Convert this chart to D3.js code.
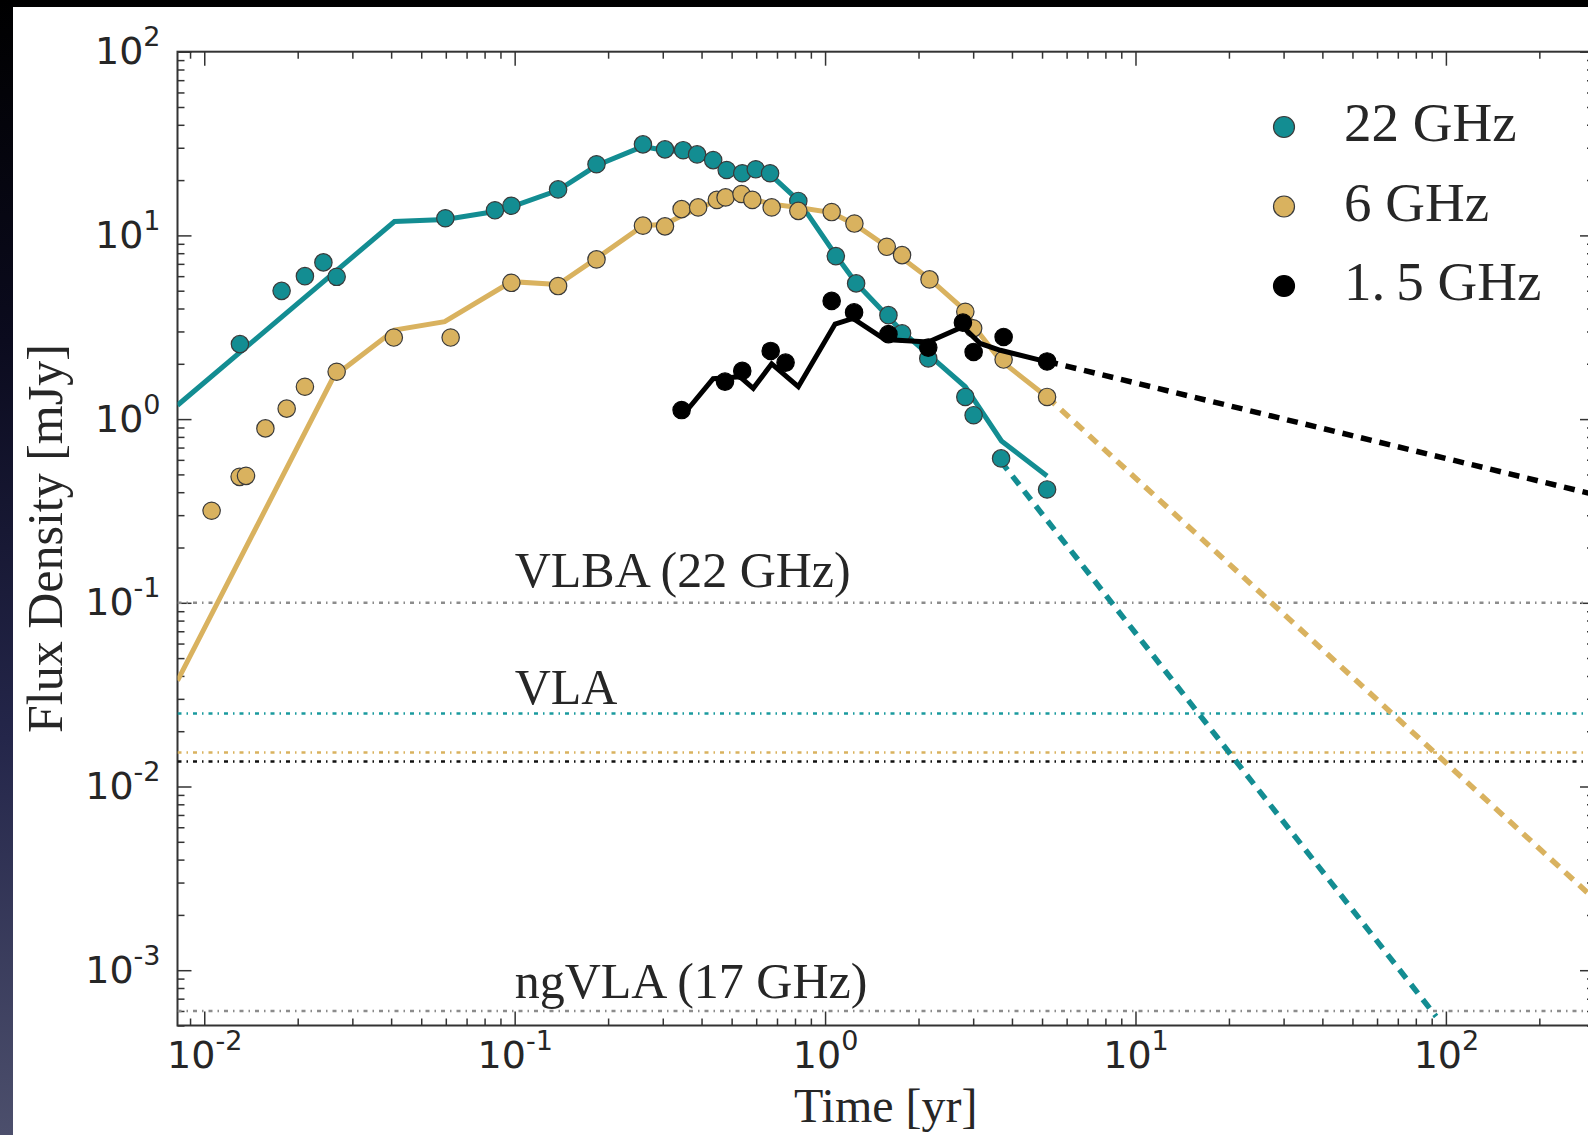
<!DOCTYPE html>
<html>
<head>
<meta charset="utf-8">
<script src="https://cdn.jsdelivr.net/npm/d3@7"></script>
<style>
body { margin: 0; background: #000; }
svg text { font-family: "Liberation Serif", serif; fill: #262626; }
.axis .tick text { font-family: "DejaVu Sans", sans-serif; }
</style>
</head>
<body>
<div id="chart-area"></div>
<script>
// ---- values: [time (yr), flux density (mJy)] ----
var pts22 = [[0.01303, 2.56], [0.01775, 4.99], [0.0211, 6.0], [0.0242, 7.13], [0.0267, 5.95],
    [0.0598, 12.4], [0.0864, 13.7], [0.0976, 14.5], [0.138, 17.8], [0.1835, 24.4], [0.259, 31.3],
    [0.305, 29.4], [0.349, 29.1], [0.387, 27.6], [0.436, 25.7], [0.482, 22.7], [0.541, 21.8],
    [0.598, 22.9], [0.665, 21.8], [0.82, 15.4], [1.083, 7.71], [1.259, 5.48], [1.6, 3.68],
    [1.77, 2.93], [2.15, 2.14], [2.83, 1.32], [3.01, 1.05], [3.69, 0.611], [5.19, 0.414]];

var pts6 = [[0.01056, 0.317], [0.0130, 0.485], [0.01363, 0.491], [0.01574, 0.89], [0.01843, 1.14],
    [0.0211, 1.50], [0.0267, 1.81], [0.0408, 2.78], [0.0622, 2.78], [0.0976, 5.52], [0.138, 5.30],
    [0.1835, 7.40], [0.259, 11.3], [0.305, 11.2], [0.345, 13.9], [0.39, 14.2], [0.448, 15.6],
    [0.478, 16.1], [0.538, 16.8], [0.583, 15.6], [0.673, 14.2], [0.82, 13.6], [1.05, 13.4],
    [1.243, 11.6], [1.58, 8.67], [1.77, 7.81], [2.17, 5.76], [2.83, 3.84], [3.0, 3.12],
    [3.76, 2.11], [5.19, 1.32]];

var pts15 = [[0.345, 1.12], [0.476, 1.60], [0.541, 1.83], [0.668, 2.35], [0.746, 2.03], [1.05, 4.40],
    [1.24, 3.81], [1.6, 2.90], [2.15, 2.45], [2.78, 3.35], [3.01, 2.32], [3.76, 2.80], [5.19, 2.06]];

// model curves (solid) and their extrapolations (dashed)
var model22 = [[0.0082, 1.19], [0.041, 11.9], [0.0598, 12.2], [0.0864, 13.5], [0.0976, 14.3],
    [0.138, 17.6], [0.1835, 24.0], [0.259, 30.5], [0.305, 29.0], [0.349, 28.6], [0.387, 27.2],
    [0.436, 25.3], [0.482, 22.5], [0.541, 21.5], [0.598, 22.5], [0.665, 21.5], [0.82, 15.5],
    [1.083, 7.8], [1.259, 5.5], [1.6, 3.6], [1.77, 3.0], [2.15, 2.25], [2.83, 1.5], [3.7, 0.76],
    [5.19, 0.49]];
var model6 = [[0.0082, 0.0377], [0.0261, 1.70], [0.041, 3.05], [0.0595, 3.39], [0.0976, 5.6],
    [0.138, 5.4], [0.1835, 7.5], [0.259, 11.3], [0.305, 11.5], [0.345, 12.8], [0.39, 14.0],
    [0.448, 15.5], [0.538, 16.3], [0.673, 14.8], [0.82, 14.2], [1.05, 13.3], [1.243, 11.5],
    [1.58, 8.7], [2.17, 5.8], [2.83, 3.9], [3.08, 3.05], [3.67, 2.09], [5.19, 1.32]];
var model15 = [[0.345, 1.03], [0.436, 1.66], [0.532, 1.70], [0.587, 1.47], [0.673, 2.0], [0.82, 1.50],
    [1.077, 3.29], [1.23, 3.53], [1.56, 2.71], [2.15, 2.63], [2.78, 3.18], [3.16, 2.58],
    [3.67, 2.37], [5.19, 2.05]];
var extrap22 = [[3.68, 0.59], [93, 5.6e-4]];
var extrap6 = [[5.19, 1.32], [300, 2.45e-3]];
var extrap15 = [[5.19, 2.06], [300, 0.389]];

// sensitivity limits (mJy)
var limitValues = [0.1, 0.025, 0.0153, 0.0137, 6e-4];
var limitColors = ["#8c8c8c", "#1a9a9e", "#d9b25f", "#111111", "#8c8c8c"];
var limitLabels = ["VLBA (22 GHz)", "VLA", "ngVLA (17 GHz)"];
var limitLabelPos = [[0.1, 0.122], [0.1, 0.0281], [0.1, 7.05e-4]];

var legendLabels = ["22 GHz", "6 GHz", "1.\u20095 GHz"];
var xMajor = [1e-2, 1e-1, 1, 10, 100], xExp = ["-2", "-1", "0", "1", "2"];
var yMajor = [1e-3, 1e-2, 1e-1, 1, 10, 100], yExp = ["-3", "-2", "-1", "0", "1", "2"];

var teal = "#138d92", gold = "#d9b25f", black = "#000000";

// ---- layout ----
var W = 1588, H = 1135;
var plot = { left: 177.5, top: 51.7, right: 1594, bottom: 1025.5 };

const svg = d3.select("#chart-area").append("svg")
    .attr("width", W).attr("height", H);

const defs = svg.append("defs");
const grad = defs.append("linearGradient").attr("id", "bg")
    .attr("x1", 0).attr("y1", 0).attr("x2", 0).attr("y2", 1);
grad.append("stop").attr("offset", "0%").attr("stop-color", "#000000");
grad.append("stop").attr("offset", "30%").attr("stop-color", "#0b0b1e");
grad.append("stop").attr("offset", "65%").attr("stop-color", "#24264a");
grad.append("stop").attr("offset", "100%").attr("stop-color", "#4c4f6c");
defs.append("clipPath").attr("id", "clip").append("rect")
    .attr("x", plot.left).attr("y", plot.top)
    .attr("width", plot.right - plot.left).attr("height", plot.bottom - plot.top);

svg.append("rect").attr("width", W).attr("height", H).attr("fill", "url(#bg)");
svg.append("rect").attr("x", 13).attr("y", 7).attr("width", W - 13).attr("height", H - 7)
    .attr("fill", "#ffffff");

const xScale = d3.scaleLog().domain([0.0082, 300]).range([plot.left, plot.right]);
const yScale = d3.scaleLog().domain([5e-4, 100]).range([plot.bottom, plot.top]);

function isPow10(d) {
    var l = Math.log10(d);
    return Math.abs(l - Math.round(l)) < 1e-6;
}
var xMinor = xScale.ticks().filter(function(d) { return !isPow10(d); });
var yMinor = yScale.ticks().filter(function(d) { return !isPow10(d); });

function styleAxis(g) {
    g.select(".domain").remove();
    g.attr("color", "#262626").attr("font-size", 38);
    g.selectAll(".tick line").attr("stroke", "#333").attr("stroke-width", 1.5);
}

function powLabels(g, exps) {
    g.selectAll(".tick text").each(function(d, i) {
        const t = d3.select(this).text(null);
        t.append("tspan").text("10");
        t.append("tspan").attr("dy", -18).attr("font-size", 27).text(exps[i]);
    });
}

// bottom
svg.append("g").attr("class", "axis")
    .attr("transform", "translate(0," + plot.bottom + ")")
    .call(d3.axisBottom(xScale).tickValues(xMinor).tickSize(-7).tickFormat(""))
    .call(styleAxis);
svg.append("g").attr("class", "axis")
    .attr("transform", "translate(0," + plot.bottom + ")")
    .call(d3.axisBottom(xScale).tickValues(xMajor).tickSize(-14).tickPadding(15.5).tickFormat(function() { return ""; }))
    .call(styleAxis)
    .call(powLabels, xExp);
// top
svg.append("g").attr("transform", "translate(0," + plot.top + ")")
    .call(d3.axisTop(xScale).tickValues(xMinor).tickSize(-7).tickFormat(""))
    .call(styleAxis);
svg.append("g").attr("transform", "translate(0," + plot.top + ")")
    .call(d3.axisTop(xScale).tickValues(xMajor).tickSize(-14).tickFormat(""))
    .call(styleAxis);
// left
svg.append("g").attr("transform", "translate(" + plot.left + ",0)")
    .call(d3.axisLeft(yScale).tickValues(yMinor).tickSize(-7).tickFormat(""))
    .call(styleAxis);
svg.append("g").attr("class", "axis")
    .attr("transform", "translate(" + plot.left + ",0)")
    .call(d3.axisLeft(yScale).tickValues(yMajor).tickSize(-14).tickPadding(17).tickFormat(function() { return ""; }))
    .call(styleAxis)
    .call(powLabels, yExp);
// right
svg.append("g").attr("transform", "translate(" + plot.right + ",0)")
    .call(d3.axisRight(yScale).tickValues(yMinor).tickSize(-7).tickFormat(""))
    .call(styleAxis);
svg.append("g").attr("transform", "translate(" + plot.right + ",0)")
    .call(d3.axisRight(yScale).tickValues(yMajor).tickSize(-14).tickFormat(""))
    .call(styleAxis);

svg.append("rect")
    .attr("x", plot.left).attr("y", plot.top)
    .attr("width", plot.right - plot.left).attr("height", plot.bottom - plot.top)
    .attr("fill", "none").attr("stroke", "#333").attr("stroke-width", 2);

const g = svg.append("g").attr("clip-path", "url(#clip)");

// sensitivity lines
g.selectAll(".limit")
    .data(limitValues)
    .enter()
    .append("line")
    .attr("x1", plot.left).attr("x2", plot.right)
    .attr("y1", function(d) { return yScale(d); })
    .attr("y2", function(d) { return yScale(d); })
    .attr("stroke", function(d, i) { return limitColors[i]; })
    .attr("stroke-width", 2.5)
    .attr("stroke-dasharray", "4,5,1.5,5");

svg.selectAll(".limit-label")
    .data(limitLabels)
    .enter()
    .append("text")
    .attr("x", function(d, i) { return xScale(limitLabelPos[i][0]); })
    .attr("y", function(d, i) { return yScale(limitLabelPos[i][1]); })
    .attr("font-size", 50)
    .text(function(d) { return d; });

const line = d3.line()
    .x(function(d) { return xScale(d[0]); })
    .y(function(d) { return yScale(d[1]); });

function dashed(data, color) {
    g.append("path").datum(data)
        .attr("d", line)
        .attr("fill", "none").attr("stroke", color)
        .attr("stroke-width", 5.5).attr("stroke-dasharray", "11,8");
}
function series(model, pts, color) {
    g.append("path").datum(model)
        .attr("d", line)
        .attr("fill", "none").attr("stroke", color)
        .attr("stroke-width", 5).attr("stroke-linejoin", "miter");
    g.append("g").selectAll("circle")
        .data(pts)
        .enter()
        .append("circle")
        .attr("cx", function(d) { return xScale(d[0]); })
        .attr("cy", function(d) { return yScale(d[1]); })
        .attr("r", 8.7)
        .attr("fill", color)
        .attr("stroke", color === black ? black : "#3a3a3a")
        .attr("stroke-width", 1.2);
}

dashed(extrap22, teal);
dashed(extrap6, gold);
dashed(extrap15, black);
series(model22, pts22, teal);
series(model6, pts6, gold);
series(model15, pts15, black);

// legend
var legendColors = [teal, gold, black];
const legend = svg.append("g");
legend.selectAll("circle")
    .data(legendLabels)
    .enter()
    .append("circle")
    .attr("cx", 1284)
    .attr("cy", function(d, i) { return 127 + i * 79.5; })
    .attr("r", 10.5)
    .attr("fill", function(d, i) { return legendColors[i]; })
    .attr("stroke", function(d, i) { return i === 2 ? black : "#3a3a3a"; })
    .attr("stroke-width", 1.2);
legend.selectAll("text")
    .data(legendLabels)
    .enter()
    .append("text")
    .attr("x", 1344)
    .attr("y", function(d, i) { return 141 + i * 79.5; })
    .attr("font-size", 55)
    .text(function(d) { return d; });

// axis titles
svg.append("text")
    .attr("x", (plot.left + plot.right) / 2)
    .attr("y", 1122)
    .attr("text-anchor", "middle")
    .attr("font-size", 48)
    .text("Time [yr]");
svg.append("text")
    .attr("transform", "translate(62," + (plot.top + plot.bottom) / 2 + ") rotate(-90)")
    .attr("text-anchor", "middle")
    .attr("font-size", 50)
    .text("Flux Density [mJy]");
</script>
</body>
</html>
